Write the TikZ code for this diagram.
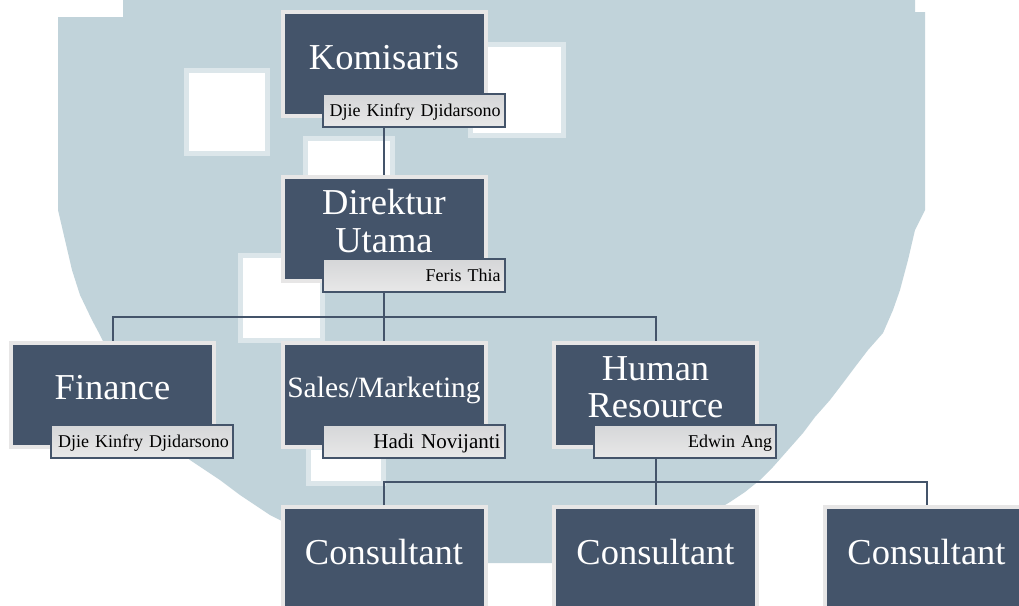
\documentclass[tikz,border=0pt]{standalone}
\usepackage{fontspec}
\setmainfont{Liberation Serif}
\usetikzlibrary{calc}
\definecolor{boxdark}{HTML}{44546A}
\definecolor{boxframe}{HTML}{E7E6E6}
\definecolor{wmblue}{HTML}{C1D3DA}
\definecolor{wmedge}{HTML}{DCE6EA}
\definecolor{nametop}{HTML}{D5D6D8}
\definecolor{namebot}{HTML}{E8E8E8}
\begin{document}
\begin{tikzpicture}[x=1pt,y=-1pt,
  mainbox/.style={fill=boxdark, draw=boxframe, line width=4pt,
    minimum width=203pt, minimum height=104pt, inner sep=0pt, text=white,
    font=\fontsize{36.5}{37.5}\selectfont, align=center,
    text height=24pt, text depth=14pt},
  twoline/.style={text height=60pt, text depth=14pt},
  namebox/.style={draw=boxdark, line width=2pt, top color=nametop,
    bottom color=namebot, minimum width=182pt, minimum height=33pt,
    inner xsep=4pt, inner ysep=0pt, text width=174pt, align=right,
    font=\fontsize{18}{20}\selectfont, text height=12pt, text depth=0pt,
    text=black},
  conn/.style={draw=boxdark, line width=2pt}]
\useasboundingbox (0,0) rectangle (1019,605);
\clip (0,0) rectangle (1019,605);
% watermark
\fill[white] (0,0) rectangle (1019,605);
\fill[wmblue] (123,0) -- (915,0) -- (915,12) -- (925,12) -- (925,210) -- (915,230)
  -- (908,260) -- (900,290) -- (893,310) -- (883,333) -- (868,350) -- (855,367)
  -- (843,383) -- (830,400) -- (815,417) -- (803,433) -- (788,450) -- (773,467)
  -- (760,480) -- (745,492) -- (730,502) -- (700,520) -- (670,538) -- (630,555)
  -- (590,563) -- (420,563) -- (360,555) -- (320,540) -- (290,525) -- (270,515)
  -- (255,505) -- (240,495) -- (220,480) -- (205,470) -- (190,460) -- (160,430)
  -- (130,395) -- (110,355) -- (100,335) -- (92,320) -- (80,295) -- (72,270)
  -- (65,240) -- (58,210) -- (58,17) -- (123,17) -- cycle;
\begin{scope}[draw=wmedge, line width=5pt, fill=white]
  \filldraw (186,70) rectangle (267,153);
  \filldraw (470,44) rectangle (563,135);
  \filldraw (305,138) rectangle (392,178);
  \filldraw (240,255) rectangle (322,340);
  \filldraw (308,447) rectangle (383,483);
\end{scope}
% boxes
\node[mainbox] (kom) at (384,64) {Komisaris};
\node[namebox] (kom-n) at ($(kom)+(29.5,46.5)$) {Djie Kinfry Djidarsono};
\node[mainbox, twoline] (dir) at (384,229) {Direktur\\Utama};
\node[namebox] (dir-n) at ($(dir)+(29.5,46.5)$) {Feris Thia};
\node[mainbox] (fin) at (112.5,394.5) {Finance};
\node[namebox] (fin-n) at ($(fin)+(29.5,46.5)$) {Djie Kinfry Djidarsono};
\node[mainbox, font=\fontsize{29.5}{31}\selectfont, text height=20pt, text depth=15pt] (sal) at (384,394.5) {Sales/Marketing};
\node[namebox, font=\fontsize{21}{23}\selectfont, text height=14pt] (sal-n) at ($(sal)+(29.5,46.5)$) {Hadi Novijanti};
\node[mainbox, twoline] (hr) at (655.5,394.5) {Human\\Resource};
\node[namebox] (hr-n) at ($(hr)+(29.5,46.5)$) {Edwin Ang};
\node[mainbox] (c1) at (384,559) {Consultant};
\node[mainbox] (c2) at (655.5,559) {Consultant};
\node[mainbox] (c3) at (926.5,559) {Consultant};
% connectors
\coordinate (bus1) at (384,317);
\coordinate (bus2) at (655.5,482);
\draw[conn] (kom-n.south -| kom.center) -- (dir.north);
\draw[conn] (dir-n.south -| dir.center) -- (bus1);
\draw[conn] (fin.north) |- (bus1) -| (hr.north);
\draw[conn] (bus1) -- (sal.north);
\draw[conn] (hr-n.south -| hr.center) -- (bus2);
\draw[conn] (c1.north) |- (bus2) -| (c3.north);
\draw[conn] (bus2) -- (c2.north);
\end{tikzpicture}
\end{document}
